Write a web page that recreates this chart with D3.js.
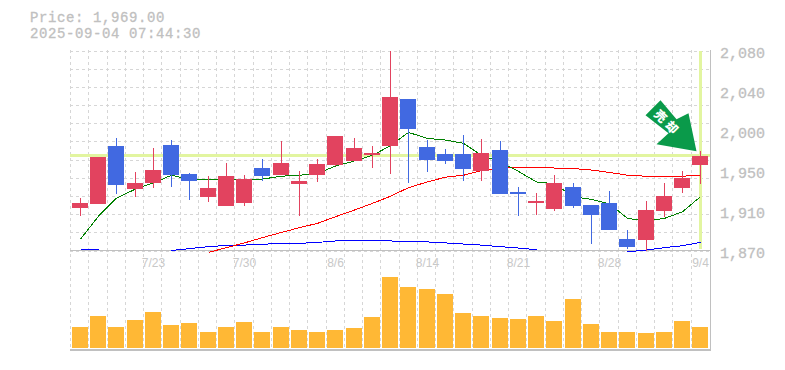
<!DOCTYPE html>
<html><head><meta charset="utf-8">
<script src="https://cdn.jsdelivr.net/npm/d3@7"></script>
<style>html,body{margin:0;padding:0;background:#fff}svg{display:block}</style>
</head><body><div id="c"></div>
<script>
const dates=["7/16","7/17","7/18","7/22","7/23","7/24","7/25","7/28","7/29","7/30","7/31","8/1","8/4","8/5","8/6","8/7","8/8","8/12","8/13","8/14","8/15","8/18","8/19","8/20","8/21","8/22","8/25","8/26","8/27","8/28","8/29","9/1","9/2","9/3","9/4"];
const opens=[1915,1919,1980,1935,1941,1981,1950,1927,1917,1920,1957,1949,1940,1949,1960,1964,1970,1980,2029,1979,1971,1971,1953,1976,1931,1920,1914,1937,1918,1920,1882,1882,1911,1935,1960];
const closes=[1920,1968,1939,1941,1955,1949,1943,1936,1948,1945,1949,1962,1943,1961,1990,1978,1972,2031,1998,1965,1964,1955,1972,1930,1929,1922,1941,1917,1907,1892,1874,1913,1927,1946,1969];
const highs=[1925,1968,1988,1952,1978,1986,1951,1948,1962,1949,1966,1985,1953,1966,1990,1988,1980,2080,2029,1986,1977,1991,1987,1985,1937,1930,1949,1941,1918,1932,1892,1922,1941,1953,1974];
const lows=[1906,1919,1929,1926,1936,1937,1923,1921,1917,1917,1943,1949,1906,1942,1959,1964,1957,1950,1941,1952,1961,1943,1943,1930,1906,1907,1911,1915,1877,1892,1872,1870,1905,1930,1940];
const ma5=[1882,1906,1925,1934.5,1941,1949,1944.7,1944.7,1945,1944,1945,1948,1949,1951,1958.7,1964,1970,1980,1994,1987.7,1986,1982.5,1970,1963,1953,1942,1940,1926.5,1923.7,1919,1903.7,1901.3,1903.7,1910.7,1926.5];
const ma25=[null,null,null,null,null,null,null,1868,1873,1878,1883.5,1889,1894,1898.5,1905.5,1912.5,1919.5,1927,1936,1942,1947,1949,1954,1956,1957.6,1957.3,1956.6,1956,1954.5,1952,1949,1948,1948,1948,1949];
const ma75=[1871,1871,null,null,null,1870,1872,1874,1875.4,1875.7,1876.5,1877.5,1877.5,1878.5,1880,1880,1880,1880,1879.6,1879,1878,1876.8,1875.7,1874,1872.6,1870.8,null,null,null,null,1868.7,1870.5,1873,1875,1878.5];
const volumes=[21,32,21,28,36,23,25,16,21,26,16,21,18,16,18,20,31,71,61,59,54,35,32,30,29,32,27,49,24,16,16,15,16,27,21];
const priceTicks=[1870,1912,1954,1996,2038,2080];
const tickDates=["7/23","7/30","8/6","8/14","8/21","8/28","9/4"];
const currentPrice=1969, title1="Price: 1,969.00", title2="2025-09-04 07:44:30", signal="売却";

const W=785,H=370,grey="#c0c0c0",gridC="#d6d6d6",hi="#e2f5a0",upC="#e2435f",dnC="#4169e1",volC="#ffb835";
const svg=d3.select("#c").append("svg").attr("width",W).attr("height",H);
const x=d3.scaleBand().domain(dates).range([71.2,709.95]).paddingInner(0).paddingOuter(0);
const y=d3.scaleLinear().domain([1870,2080]).range([250.5,50.5]);
const yv=d3.scaleLinear().domain([0,100]).range([348,248]);
const cx=d=>Math.round(x(d)+x.step()/2-0.5)+0.5;
const gx=d=>Math.floor(x(d)-0.7)+0.5;

svg.append("defs").append("clipPath").attr("id","pc").append("rect").attr("x",70).attr("y",50).attr("width",640).attr("height",203);
const grid=svg.append("g").attr("stroke",gridC).attr("stroke-dasharray","3,3").attr("shape-rendering","crispEdges");
const hticks=d3.range(0,12).map(i=>1870+i*210/11);
grid.selectAll(".h").data(hticks).join("line").attr("x1",70).attr("x2",710).attr("y1",d=>Math.round(y(d))+.5).attr("y2",d=>Math.round(y(d))+.5);
grid.selectAll(".v").data(dates).join("line").attr("x1",gx).attr("x2",gx).attr("y1",50).attr("y2",350);

const last=dates[dates.length-1];
svg.append("rect").attr("x",70).attr("width",640).attr("y",Math.floor(y(currentPrice))-2).attr("height",3).attr("fill",hi);
svg.append("rect").attr("x",cx(last)-1.5).attr("width",3).attr("y",51).attr("height",198).attr("fill",hi);

svg.append("line").attr("x1",70).attr("x2",710).attr("y1",250.5).attr("y2",250.5).attr("stroke",grey);
svg.append("line").attr("x1",70).attr("x2",710).attr("y1",350).attr("y2",350).attr("stroke",grey).attr("stroke-width",2);
svg.append("line").attr("x1",710.5).attr("x2",710.5).attr("y1",50).attr("y2",351).attr("stroke",grey);

const plot=svg.append("g").attr("clip-path","url(#pc)");
const mk=(arr,col,w)=>plot.append("path").attr("fill","none").attr("stroke",col).attr("stroke-width",w).attr("shape-rendering","crispEdges")
 .attr("d",d3.line().defined(d=>d[1]!=null).x(d=>cx(d[0])).y(d=>y(d[1]))(dates.map((k,i)=>[k,arr[i]])));
mk(ma75,"#0000ff",1);mk(ma25,"#ff0000",1);mk(ma5,"#008000",1);

const idx=d3.range(dates.length), col=i=>closes[i]>=opens[i]?upC:dnC;
plot.selectAll(".w").data(idx).join("line").attr("x1",i=>cx(dates[i])).attr("x2",i=>cx(dates[i])).attr("y1",i=>y(highs[i])).attr("y2",i=>y(lows[i])).attr("stroke",col).attr("stroke-width",1).attr("shape-rendering","crispEdges");
plot.selectAll(".b").data(idx).join("rect").attr("x",i=>cx(dates[i])-8.5).attr("width",16)
 .attr("y",i=>Math.round(y(Math.max(opens[i],closes[i])))).attr("height",i=>Math.max(1,Math.round(Math.abs(y(opens[i])-y(closes[i]))))).attr("fill",col).attr("shape-rendering","crispEdges");

svg.selectAll(".vol").data(idx).join("rect").attr("x",i=>cx(dates[i])-8.5).attr("width",16)
 .attr("y",i=>yv(volumes[i])).attr("height",i=>yv(0)-yv(volumes[i])).attr("fill",volC).attr("shape-rendering","crispEdges");

// signal arrow anchored at the latest price
const ax=cx(last)-5, ay=y(currentPrice)-5;
const ag=svg.append("g").attr("transform",`translate(${ax},${ay})`);
ag.append("path").attr("fill","#0a9a4a").attr("d","M-35,-51 L-19,-32 L-7,-38 L1,0 L-39,-7 L-27,-18 L-50,-36 Z");
ag.append("text").attr("transform","translate(-28,-28) rotate(45)").attr("text-anchor","middle").attr("dy","0.36em").attr("fill","#fff").attr("font-family","'Noto Sans CJK JP'").attr("font-weight",900).attr("font-size",12).attr("letter-spacing",4).text(signal);

// labels
const mono="'Liberation Mono',monospace";
const tt=svg.append("g").attr("font-family",mono).attr("font-size",14).attr("letter-spacing",0.6).attr("fill",grey).attr("stroke",grey).attr("stroke-width",0.3);
tt.append("text").attr("x",30).attr("y",22).text(title1);
tt.append("text").attr("x",30).attr("y",38).text(title2);
svg.selectAll(".pt").data(priceTicks).join("text").attr("x",720).attr("y",d=>y(d)+7).attr("font-family",mono).attr("font-size",15).attr("fill",grey).attr("stroke",grey).attr("stroke-width",0.3).text(d=>d3.format(",")(Math.round(d/10)*10));
svg.selectAll(".dt").data(tickDates).join("text").attr("x",d=>cx(d)).attr("y",267).attr("text-anchor","middle").attr("font-family","'Liberation Sans'").attr("font-size",12).attr("fill","#c8c8c8").text(d=>d);
</script></body></html>
